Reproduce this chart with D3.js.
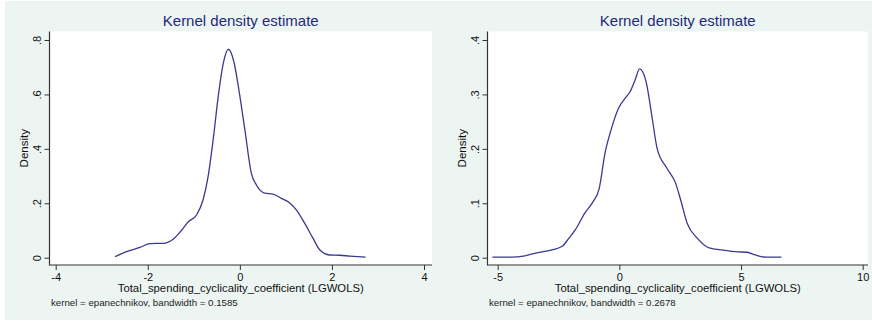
<!DOCTYPE html>
<html>
<head>
<meta charset="utf-8">
<script src="https://cdn.jsdelivr.net/npm/d3@7"></script>
<style>
  html, body { margin: 0; padding: 0; background: #ffffff; }
  svg { display: block; }
  text { font-family: "Liberation Sans", Arial, sans-serif; }
</style>
</head>
<body>
<div id="chart"></div>
<script>
// ---- data ----
const leftX = [-2.71,-2.46,-2.17,-1.95,-1.66,-1.45,-1.27,-1.12,-0.94,-0.80,-0.69,-0.58,-0.47,-0.36,-0.25,-0.13,-0.02,0.11,0.25,0.36,0.54,0.72,0.90,1.09,1.23,1.41,1.59,1.74,1.95,2.17,2.39,2.73];
const leftDensity = [0.004,0.022,0.038,0.052,0.053,0.068,0.100,0.132,0.157,0.212,0.298,0.433,0.592,0.714,0.766,0.720,0.616,0.469,0.310,0.267,0.237,0.234,0.218,0.200,0.175,0.126,0.071,0.028,0.010,0.009,0.006,0.002];
const rightX = [-5.22,-4.42,-3.94,-3.38,-2.90,-2.35,-2.07,-1.80,-1.42,-1.08,-0.83,-0.59,-0.32,-0.04,0.24,0.44,0.65,0.83,1.10,1.34,1.55,1.96,2.31,2.52,2.79,3.20,3.69,4.28,4.77,5.25,5.59,6.01,6.66];
const rightDensity = [0.001,0.001,0.003,0.009,0.013,0.021,0.036,0.052,0.082,0.103,0.127,0.192,0.238,0.274,0.293,0.305,0.327,0.347,0.323,0.259,0.201,0.164,0.137,0.106,0.063,0.036,0.018,0.014,0.011,0.010,0.005,0.001,0.001];
const leftXTicks = [-4, -2, 0, 2, 4];
const leftYTicks = [0, 0.2, 0.4, 0.6, 0.8];
const rightXTicks = [-5, 0, 5, 10];
const rightYTicks = [0, 0.1, 0.2, 0.3, 0.4];
const titleText = "Kernel density estimate";
const xLabelText = "Total_spending_cyclicality_coefficient (LGWOLS)";
const yLabelText = "Density";
const leftNote = "kernel = epanechnikov, bandwidth = 0.1585";
const rightNote = "kernel = epanechnikov, bandwidth = 0.2678";

// ---- drawing ----
const W = 872, H = 325;
const svg = d3.select("#chart").append("svg").attr("width", W).attr("height", H);
svg.append("rect").attr("x", 0).attr("y", 0).attr("width", W).attr("height", H).attr("fill", "#ffffff");
svg.append("rect").attr("x", 5).attr("y", 1).attr("width", W - 5).attr("height", 319).attr("fill", "#edf5f3");

const fmtY = d => d === 0 ? "0" : d3.format(".1f")(d).replace(/^0\./, ".");
const fmtX = d => String(d);

function panel(cfg) {
  const { px0, px1, py0, py1, xDomain, xRange, yDomain, yRange, xs, ys, xTicks, yTicks, note } = cfg;
  const g = svg.append("g");
  // plot region
  g.append("rect").attr("x", px0).attr("y", py0).attr("width", px1 - px0).attr("height", py1 - py0).attr("fill", "#ffffff");

  const x = d3.scaleLinear().domain(xDomain).range(xRange);
  const y = d3.scaleLinear().domain(yDomain).range(yRange);

  // curve
  const pts = xs.map((v, i) => [v, ys[i]]);
  const line = d3.line().x(d => x(d[0])).y(d => y(d[1])).curve(d3.curveMonotoneX);
  g.append("path").datum(pts).attr("d", line).attr("fill", "none")
    .attr("stroke", "#3a3a8e").attr("stroke-width", 1.3).attr("stroke-linejoin", "round");

  // y axis
  const ya = g.append("g").attr("transform", `translate(${px0},0)`)
    .call(d3.axisLeft(y).tickValues(yTicks).tickFormat(fmtY).tickSize(5));
  ya.select(".domain").remove();
  ya.selectAll(".tick line").attr("stroke", "#333");
  ya.selectAll(".tick text")
    .attr("transform", "rotate(-90)")
    .attr("x", 0).attr("y", -8.5).attr("dy", 0)
    .attr("text-anchor", "middle")
    .attr("fill", "#111")
    .style("font-size", "11px")
    .style("font-family", "'Liberation Sans', Arial, sans-serif");

  // x axis
  const xa = g.append("g").attr("transform", `translate(0,${py1})`)
    .call(d3.axisBottom(x).tickValues(xTicks).tickFormat(fmtX).tickSize(5));
  xa.select(".domain").remove();
  xa.selectAll(".tick line").attr("stroke", "#333");
  xa.selectAll(".tick text")
    .attr("y", 8.5)
    .attr("fill", "#111")
    .style("font-size", "11px")
    .style("font-family", "'Liberation Sans', Arial, sans-serif");

  // axis lines
  g.append("line").attr("x1", px0).attr("x2", px0).attr("y1", py0).attr("y2", py1 + 0.5)
    .attr("stroke", "#333").attr("stroke-width", 1.2);
  g.append("line").attr("x1", px0).attr("x2", px1).attr("y1", py1).attr("y2", py1)
    .attr("stroke", "#333").attr("stroke-width", 1.2);

  const cx = (px0 + px1) / 2;
  // title
  g.append("text").attr("x", cx).attr("y", 26).attr("text-anchor", "middle")
    .attr("fill", "#1e2a7a").style("font-size", "15px").text(titleText);
  // x label
  g.append("text").attr("x", cx).attr("y", 291.5).attr("text-anchor", "middle")
    .attr("fill", "#111").style("font-size", "11.3px").text(xLabelText);
  // y label
  g.append("text").attr("transform", `translate(${px0 - 22},${(py0 + py1) / 2}) rotate(-90)`)
    .attr("text-anchor", "middle").attr("fill", "#111").style("font-size", "11.5px").text(yLabelText);
  // note
  g.append("text").attr("x", px0 + 1.5).attr("y", 305.5).attr("fill", "#222")
    .style("font-size", "9.7px").text(note);
}

panel({
  px0: 49.5, px1: 432, py0: 31.5, py1: 265,
  xDomain: [-4, 4], xRange: [55.7, 424],
  yDomain: [0, 0.8], yRange: [257.7, 40],
  xs: leftX, ys: leftDensity, xTicks: leftXTicks, yTicks: leftYTicks, note: leftNote
});
panel({
  px0: 487.5, px1: 868, py0: 31.5, py1: 265,
  xDomain: [-5, 10], xRange: [497.7, 862.7],
  yDomain: [0, 0.4], yRange: [257.7, 40],
  xs: rightX, ys: rightDensity, xTicks: rightXTicks, yTicks: rightYTicks, note: rightNote
});
</script>
</body>
</html>
